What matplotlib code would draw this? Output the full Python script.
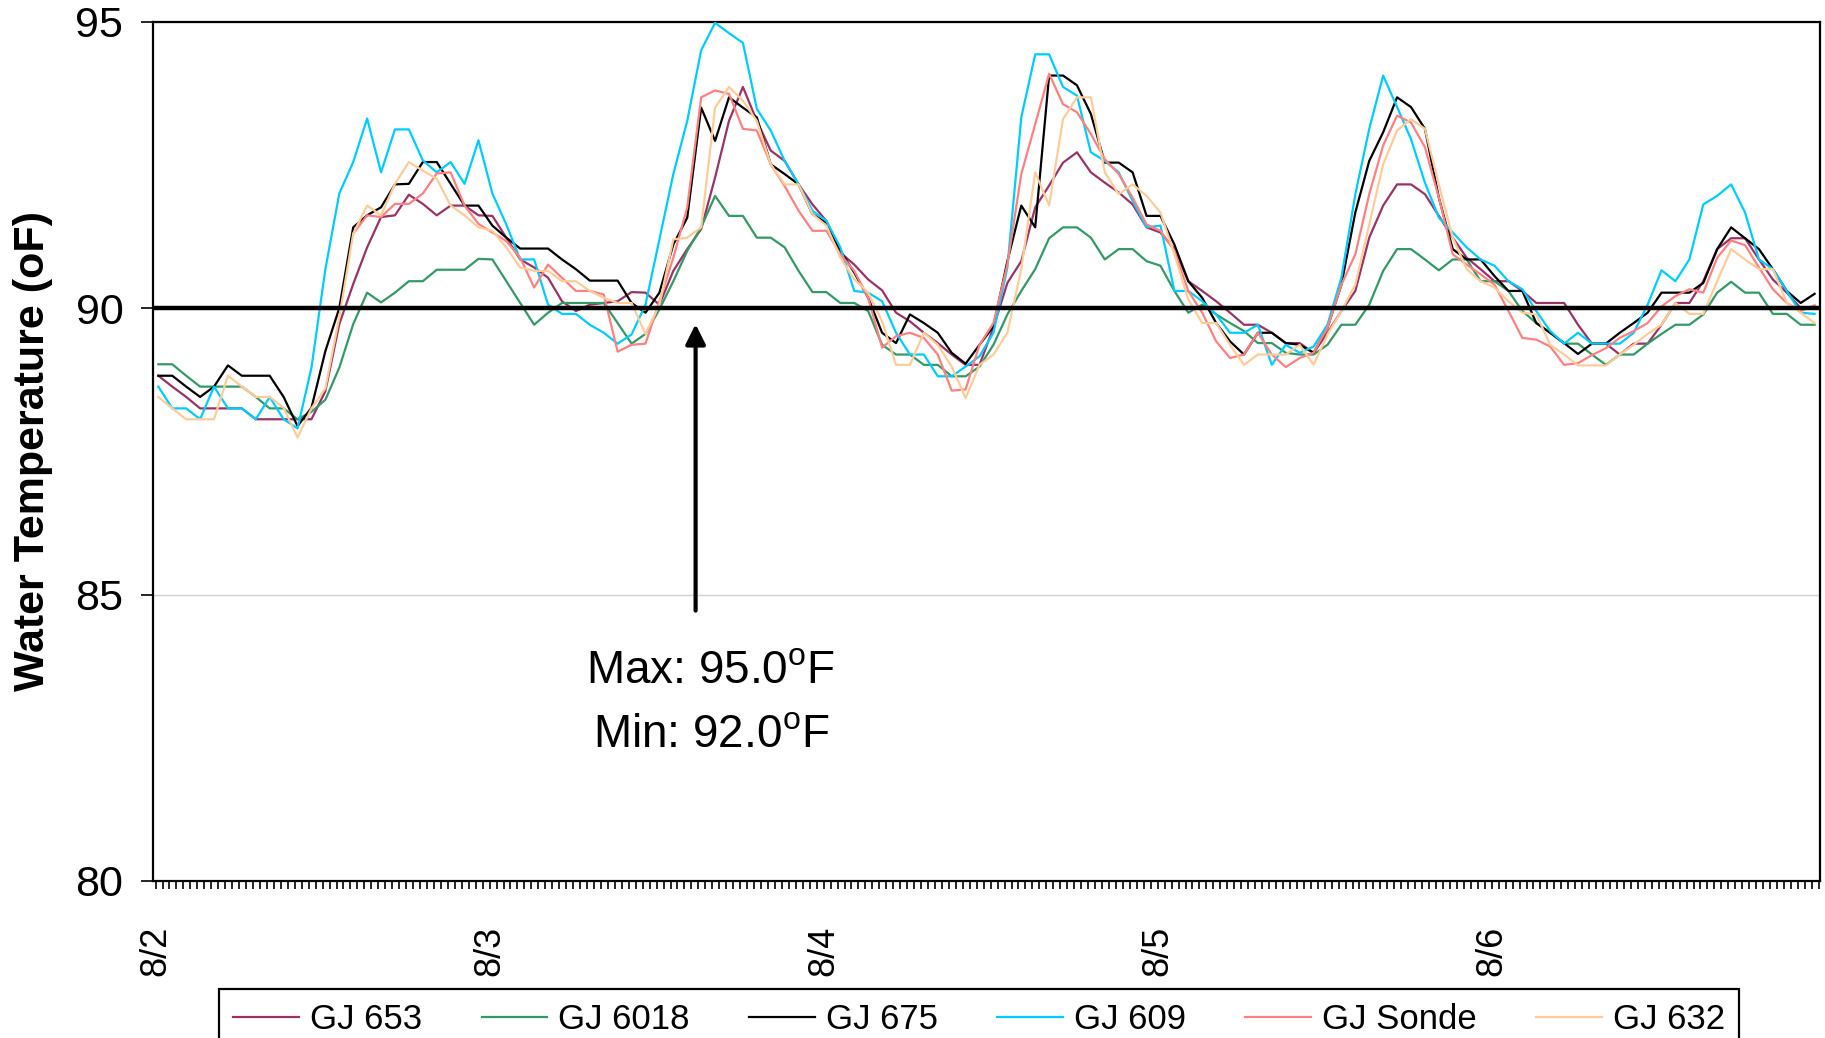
import numpy as np
import matplotlib
matplotlib.use('Agg')
import matplotlib.pyplot as plt
from matplotlib.ticker import MultipleLocator, FixedLocator

plt.rcParams['font.family'] = ['Liberation Sans', 'DejaVu Sans']
plt.rcParams['mathtext.fontset'] = 'custom'
plt.rcParams['mathtext.rm'] = 'Liberation Sans'

# hourly readings, 8/2 00:00 .. 8/6 23:00
hours = np.arange(120)
day_labels = ['8/2', '8/3', '8/4', '8/5', '8/6']
series_names = ['GJ 653', 'GJ 6018', 'GJ 675', 'GJ 609', 'GJ Sonde', 'GJ 632']
series_colors = ['#993366', '#339966', '#000000', '#00CCFF', '#FF8080', '#FFCC99']

gj653 = [88.82, 88.63, 88.45, 88.25, 88.25, 88.25, 88.25, 88.06, 88.06, 88.06, 88.06, 88.06,
         88.55, 89.72, 90.42, 91.06, 91.59, 91.62, 91.98, 91.82, 91.62, 91.79, 91.79, 91.62,
         91.61, 91.23, 90.85, 90.71, 90.53, 90.12, 89.95, 90.06, 90.09, 90.12, 90.28, 90.27,
         90.06, 90.65, 91.03, 91.38, 92.28, 93.27, 93.86, 93.27, 92.75, 92.57, 92.16, 91.81,
         91.52, 90.97, 90.76, 90.50, 90.31, 89.92, 89.77, 89.57, 89.39, 89.19, 89.01, 89.01,
         89.66, 90.44, 90.82, 91.76, 92.14, 92.54, 92.72, 92.37, 92.19, 92.02, 91.81, 91.41,
         91.32, 91.03, 90.47, 90.30, 90.12, 89.92, 89.71, 89.71, 89.57, 89.39, 89.39, 89.22,
         89.57, 89.95, 90.30, 91.23, 91.79, 92.16, 92.16, 91.99, 91.61, 91.23, 90.88, 90.68,
         90.47, 90.47, 90.30, 90.09, 90.09, 90.09, 89.71, 89.38, 89.38, 89.19, 89.38, 89.38,
         89.71, 90.09, 90.09, 90.47, 91.03, 91.22, 91.22, 90.85, 90.50, 90.27, 90.00, 90.00]

gj6018 = [89.02, 89.02, 88.82, 88.63, 88.63, 88.63, 88.63, 88.45, 88.25, 88.25, 88.06, 88.19,
          88.40, 88.96, 89.72, 90.27, 90.10, 90.27, 90.47, 90.47, 90.67, 90.67, 90.67, 90.86,
          90.85, 90.47, 90.09, 89.71, 89.92, 90.09, 90.09, 90.09, 90.09, 89.74, 89.38, 89.55,
          89.98, 90.47, 91.00, 91.41, 91.96, 91.61, 91.61, 91.23, 91.23, 91.06, 90.65, 90.28,
          90.28, 90.09, 90.09, 89.95, 89.36, 89.19, 89.19, 89.01, 89.01, 88.81, 88.81, 88.98,
          89.36, 89.89, 90.30, 90.68, 91.22, 91.41, 91.41, 91.23, 90.85, 91.03, 91.03, 90.82,
          90.74, 90.30, 89.92, 90.06, 89.89, 89.74, 89.60, 89.39, 89.39, 89.22, 89.19, 89.19,
          89.36, 89.71, 89.71, 90.06, 90.65, 91.03, 91.03, 90.85, 90.66, 90.85, 90.85, 90.47,
          90.47, 90.30, 89.95, 89.74, 89.57, 89.38, 89.38, 89.19, 89.01, 89.19, 89.19, 89.38,
          89.55, 89.71, 89.71, 89.89, 90.27, 90.46, 90.27, 90.27, 89.90, 89.90, 89.71, 89.71]

gj675 = [88.82, 88.82, 88.63, 88.45, 88.63, 89.00, 88.82, 88.82, 88.82, 88.45, 87.94, 88.26,
         89.25, 90.00, 91.41, 91.62, 91.76, 92.16, 92.17, 92.55, 92.55, 92.17, 91.79, 91.79,
         91.44, 91.23, 91.04, 91.04, 91.04, 90.85, 90.68, 90.48, 90.48, 90.48, 90.09, 89.92,
         90.27, 91.11, 91.58, 93.50, 92.92, 93.68, 93.50, 93.33, 92.51, 92.34, 92.16, 91.64,
         91.49, 91.00, 90.62, 90.18, 89.57, 89.39, 89.89, 89.74, 89.57, 89.22, 89.03, 89.36,
         89.68, 90.82, 91.79, 91.41, 94.06, 94.06, 93.89, 93.39, 92.54, 92.54, 92.37, 91.61,
         91.61, 91.11, 90.47, 90.18, 89.74, 89.42, 89.19, 89.57, 89.57, 89.39, 89.36, 89.22,
         89.66, 90.41, 91.67, 92.57, 93.07, 93.68, 93.51, 93.13, 91.93, 91.03, 90.85, 90.85,
         90.56, 90.30, 90.30, 89.74, 89.57, 89.39, 89.20, 89.38, 89.38, 89.57, 89.74, 89.92,
         90.27, 90.27, 90.27, 90.44, 91.03, 91.41, 91.22, 91.03, 90.68, 90.30, 90.09, 90.25]

gj609 = [88.63, 88.25, 88.25, 88.06, 88.63, 88.25, 88.25, 88.06, 88.45, 88.06, 87.90, 88.96,
         90.68, 92.00, 92.55, 93.31, 92.37, 93.12, 93.12, 92.58, 92.37, 92.55, 92.17, 92.93,
         92.00, 91.46, 90.85, 90.85, 90.06, 89.90, 89.90, 89.71, 89.57, 89.38, 89.54, 90.06,
         91.20, 92.34, 93.27, 94.50, 94.98, 94.80, 94.63, 93.48, 93.10, 92.57, 92.16, 91.70,
         91.52, 91.06, 90.30, 90.27, 90.12, 89.57, 89.19, 89.19, 88.81, 88.81, 88.98, 89.16,
         89.57, 90.71, 93.33, 94.43, 94.43, 93.86, 93.71, 92.72, 92.57, 92.37, 91.87, 91.41,
         91.44, 90.30, 90.30, 90.12, 89.89, 89.57, 89.57, 89.71, 89.01, 89.36, 89.22, 89.33,
         89.71, 90.53, 91.99, 93.13, 94.06, 93.51, 92.95, 92.19, 91.58, 91.32, 91.06, 90.85,
         90.74, 90.47, 90.33, 89.95, 89.60, 89.38, 89.57, 89.38, 89.38, 89.38, 89.57, 90.06,
         90.66, 90.47, 90.85, 91.81, 91.96, 92.16, 91.67, 90.85, 90.68, 90.30, 89.92, 89.90]

gjsonde = [np.nan, np.nan, np.nan, np.nan, np.nan, np.nan, np.nan, np.nan, np.nan, np.nan, np.nan, np.nan,
           np.nan, np.nan, 91.30, 91.62, 91.59, 91.82, 91.82, 92.00, 92.35, 92.37, 91.79, 91.47,
           91.32, 91.17, 90.88, 90.36, 90.76, 90.53, 90.30, 90.30, 90.24, 89.24, 89.36, 89.38,
           90.12, 90.88, 91.76, 93.68, 93.80, 93.74, 93.13, 93.10, 92.51, 92.13, 91.70, 91.35,
           91.35, 90.94, 90.65, 90.18, 89.31, 89.51, 89.57, 89.48, 89.19, 88.56, 88.58, 89.36,
           89.74, 90.76, 92.34, 93.21, 94.09, 93.56, 93.42, 93.04, 92.60, 92.34, 91.93, 91.46,
           91.35, 91.00, 90.30, 89.92, 89.42, 89.13, 89.19, 89.57, 89.19, 88.97, 89.13, 89.22,
           89.66, 90.41, 90.94, 91.99, 92.84, 93.36, 93.24, 92.81, 91.93, 90.94, 90.76, 90.59,
           90.41, 89.95, 89.48, 89.45, 89.33, 89.01, 89.04, 89.18, 89.30, 89.48, 89.60, 89.74,
           90.03, 90.21, 90.33, 90.27, 90.88, 91.18, 91.10, 90.71, 90.33, 90.09, 89.95, 90.05]

gj632 = [88.45, 88.25, 88.06, 88.06, 88.06, 88.82, 88.63, 88.45, 88.45, 88.26, 87.74, 88.25,
         88.60, 89.84, 91.30, 91.79, 91.62, 92.17, 92.55, 92.40, 92.26, 91.79, 91.62, 91.41,
         91.35, 91.06, 90.71, 90.65, 90.65, 90.47, 90.47, 90.30, 90.18, 90.09, 90.09, 89.55,
         90.06, 91.20, 91.23, 91.41, 93.50, 93.86, 93.62, 93.27, 92.51, 92.16, 92.16, 91.64,
         91.44, 90.88, 90.50, 90.27, 89.77, 89.01, 89.01, 89.57, 89.36, 88.98, 88.43, 89.01,
         89.19, 89.57, 90.68, 92.37, 91.79, 93.30, 93.68, 93.68, 92.37, 91.99, 92.16, 91.96,
         91.67, 90.94, 90.15, 89.74, 89.74, 89.36, 89.01, 89.19, 89.19, 89.19, 89.36, 89.01,
         89.54, 89.95, 90.41, 91.46, 92.51, 93.10, 93.30, 93.13, 92.16, 91.23, 90.68, 90.47,
         90.36, 90.12, 89.92, 89.89, 89.36, 89.19, 89.00, 89.00, 89.00, 89.19, 89.36, 89.55,
         89.71, 90.09, 89.90, 89.90, 90.47, 91.03, 90.85, 90.68, 90.68, 90.09, 89.92, 89.74]

threshold = 90.0
y_ticks = [80, 85, 90, 95]
arrow_x = 38.8
arrow_y_from, arrow_y_to = 84.72, 89.72

W, H = 1825, 1038
fig = plt.figure(figsize=(W / 100, H / 100), dpi=100)
ax_l, ax_r, ax_t, ax_b = 152.5, 1819.5, 21.7, 881.0
ax = fig.add_axes([ax_l / W, 1 - ax_b / H, (ax_r - ax_l) / W, (ax_b - ax_t) / H])

t = hours + 0.2
all_series = [gj653, gj6018, gj675, gj609, gjsonde, gj632]
handles = []
for name, col, vals in zip(series_names, series_colors, all_series):
    h, = ax.plot(t, vals, color=col, lw=1.6, label=name, zorder=3)
    handles.append(h)

ax.axhline(threshold, color='black', lw=3.2, zorder=4)

ax.set_xlim(-0.22, 119.55)
ax.set_ylim(80, 95)
ax.yaxis.set_major_locator(FixedLocator(y_ticks))
ax.grid(axis='y', color='#d0d0d0', lw=1.0, zorder=0)
ax.set_axisbelow(True)

ax.xaxis.set_major_locator(FixedLocator([24 * i for i in range(len(day_labels))]))
ax.set_xticklabels(day_labels, rotation=90, fontsize=26)
ax.xaxis.set_minor_locator(MultipleLocator(0.5))
ax.tick_params(axis='x', which='both', direction='out', length=6, width=1.2, pad=26, colors='black')
ax.tick_params(axis='y', which='major', direction='out', length=9, width=1.2, pad=12, labelsize=31)
for lbl in ax.get_xticklabels():
    lbl.set_va('top')

for s in ax.spines.values():
    s.set_color('black')
    s.set_linewidth(1.6)

fig.text(33 / W, 1 - 451 / H, 'Water Temperature (oF)', rotation=90, ha='center', va='center',
         fontsize=31, fontweight='bold')

ax.annotate('', xy=(arrow_x, arrow_y_to), xytext=(arrow_x, arrow_y_from),
            arrowprops=dict(arrowstyle='-|>', color='black', lw=3, mutation_scale=30,
                            shrinkA=0, shrinkB=0), zorder=5)
ax.text(arrow_x + 1.1, 83.67, r'Max: 95.0$^{\mathrm{o}}$F', ha='center', va='center', fontsize=33)
ax.text(arrow_x + 1.1, 82.54, r'Min: 92.0$^{\mathrm{o}}$F', ha='center', va='center', fontsize=33)

leg = fig.legend(handles, series_names, loc='upper center', bbox_to_anchor=(979 / W, 1 - 989 / H),
                 ncol=6, fontsize=25, handlelength=1.9, handletextpad=0.3, columnspacing=1.72,
                 borderpad=0.4, borderaxespad=0.0, frameon=True, fancybox=False,
                 edgecolor='black', framealpha=1)
leg.get_frame().set_linewidth(1.6)

fig.savefig('out.png', dpi=100)
